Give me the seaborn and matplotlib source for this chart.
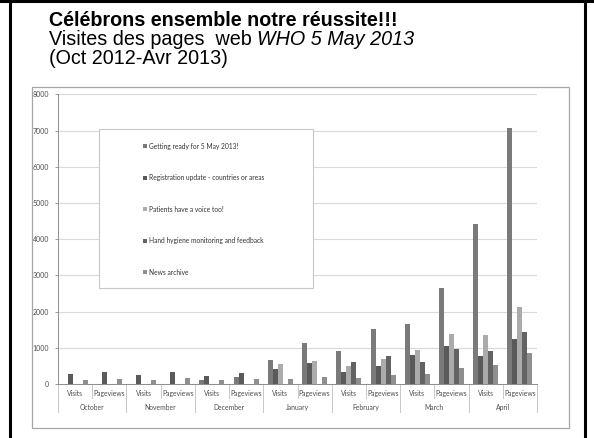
import numpy as np
import pandas as pd
import matplotlib.pyplot as plt
import matplotlib.transforms as mtransforms
from matplotlib.patches import Rectangle
from matplotlib.lines import Line2D
import seaborn as sns

# data (Oct 2012 - Apr 2013)
months = ["October", "November", "December", "January", "February", "March", "April"]
metrics = ["Visits", "Pageviews"]
series = ["Getting ready for 5 May 2013!",
          "Registration update - countries or areas",
          "Patients have a voice too!",
          "Hand hygiene monitoring and feedback",
          "News archive"]
getting_ready = [0, 0, 0, 0, 101, 194, 664, 1143, 922, 1512, 1659, 2652, 4411, 7081]
registration = [276, 341, 249, 322, 221, 295, 405, 581, 341, 498, 793, 1040, 783, 1234]
patients = [0, 0, 0, 0, 0, 0, 544, 645, 498, 682, 940, 1372, 1344, 2136]
hand_hygiene = [0, 0, 0, 0, 0, 0, 0, 0, 608, 765, 618, 958, 921, 1436]
news_archive = [101, 129, 110, 157, 101, 138, 138, 184, 175, 258, 276, 442, 516, 856]
yticks = [0, 1000, 2000, 3000, 4000, 5000, 6000, 7000, 8000]

colors = ["#7a7a7a", "#5a5a5a", "#ababab", "#636363", "#8f8f8f"]

cats = [m + "|" + k for m in months for k in metrics]
df = pd.DataFrame({
    "cat": np.tile(cats, len(series)),
    "series": np.repeat(series, len(cats)),
    "value": np.concatenate([getting_ready, registration, patients, hand_hygiene, news_archive]),
})

plt.rcParams["font.family"] = ["Lato", "DejaVu Sans"]

W, H = 594, 438
fig = plt.figure(figsize=(W / 100, H / 100), dpi=100)


def fx(x):
    return x / W


def fy(y):
    return 1 - y / H


# slide frame
for x in (10, 585):
    fig.add_artist(Line2D([fx(x), fx(x)], [0, 1], color="black", lw=2.2))
fig.add_artist(Line2D([0, 1], [fy(1.2), fy(1.2)], color="black", lw=2.2))

# title block
fig.text(fx(49), fy(26), "Célébrons ensemble notre réussite!!!", family="Liberation Sans",
         fontsize=14.2, fontweight="bold", va="baseline")
t2 = fig.text(fx(49), fy(45), "Visites des pages  web", family="Liberation Sans",
              fontsize=14.2, va="baseline")
fig.text(fx(49), fy(64), "(Oct 2012-Avr 2013)", family="Liberation Sans",
         fontsize=14.2, va="baseline")

# chart box
fig.add_artist(Rectangle((fx(32), fy(428)), fx(569) - fx(32), fy(87) - fy(428),
                         transform=fig.transFigure, fill=False, ec="#a6a6a6", lw=0.9))

ax = fig.add_axes([fx(58), fy(384), fx(537) - fx(58), fy(94.3) - fy(384)])
ax.annotate("WHO 5 May 2013", xy=(1, 0), xycoords=t2, xytext=(3.9, 0), textcoords="offset points",
            va="bottom", ha="left", family="Liberation Sans", fontsize=14.2, fontstyle="italic",
            annotation_clip=False)

sns.barplot(data=df, x="cat", y="value", hue="series", order=cats, hue_order=series,
            palette=colors, width=0.73, gap=0, saturation=1, errorbar=None, linewidth=0, ax=ax)

handles, labels = ax.get_legend_handles_labels()
ax.get_legend().remove()

ax.set_ylim(0, 8000)
ax.set_yticks(yticks)
ax.set_yticklabels([str(v) for v in yticks])
ax.set_xlim(-0.5, len(cats) - 0.5)
ax.set_xticks([])
ax.set_xlabel("")
ax.set_ylabel("")
ax.grid(axis="y", color="#d9d9d9", lw=0.8)
ax.set_axisbelow(True)
for s in ("top", "right"):
    ax.spines[s].set_visible(False)
for s in ("left", "bottom"):
    ax.spines[s].set_color("#8c8c8c")
    ax.spines[s].set_linewidth(0.7)
ax.tick_params(axis="y", length=2.5, width=0.6, color="#8c8c8c", labelsize=5,
               labelcolor="#4d4d4d", pad=4)

# two-level category axis
blend = mtransforms.blended_transform_factory(ax.transData, fig.transFigure)
for i, c in enumerate(cats):
    ax.text(i, fy(393.5), c.split("|")[1], transform=blend, ha="center", va="center",
            fontsize=4.9, color="#4d4d4d")
for j, m in enumerate(months):
    ax.text(2 * j + 0.5, fy(407.5), m, transform=blend, ha="center", va="center",
            fontsize=4.9, color="#4d4d4d")
for k in range(len(cats) + 1):
    bottom = 412 if k % 2 == 0 else 398
    ax.plot([k - 0.5, k - 0.5], [fy(384), fy(bottom)], transform=blend, color="#c8c8c8",
            lw=0.7, clip_on=False)

# legend with its own wide box
fig.add_artist(Rectangle((fx(99), fy(288)), fx(313) - fx(99), fy(129) - fy(288),
                         transform=fig.transFigure, fc="white", ec="#c8c8c8", lw=0.8, zorder=3))
fig.legend(handles, labels, loc="upper left", bbox_to_anchor=(fx(143), fy(142.5)), frameon=False,
           fontsize=4.8, handlelength=0.6, handleheight=0.6, handletextpad=0.3,
           labelspacing=3.68, borderaxespad=0, borderpad=0, labelcolor="#333333")

fig.savefig("out.png", dpi=100)
